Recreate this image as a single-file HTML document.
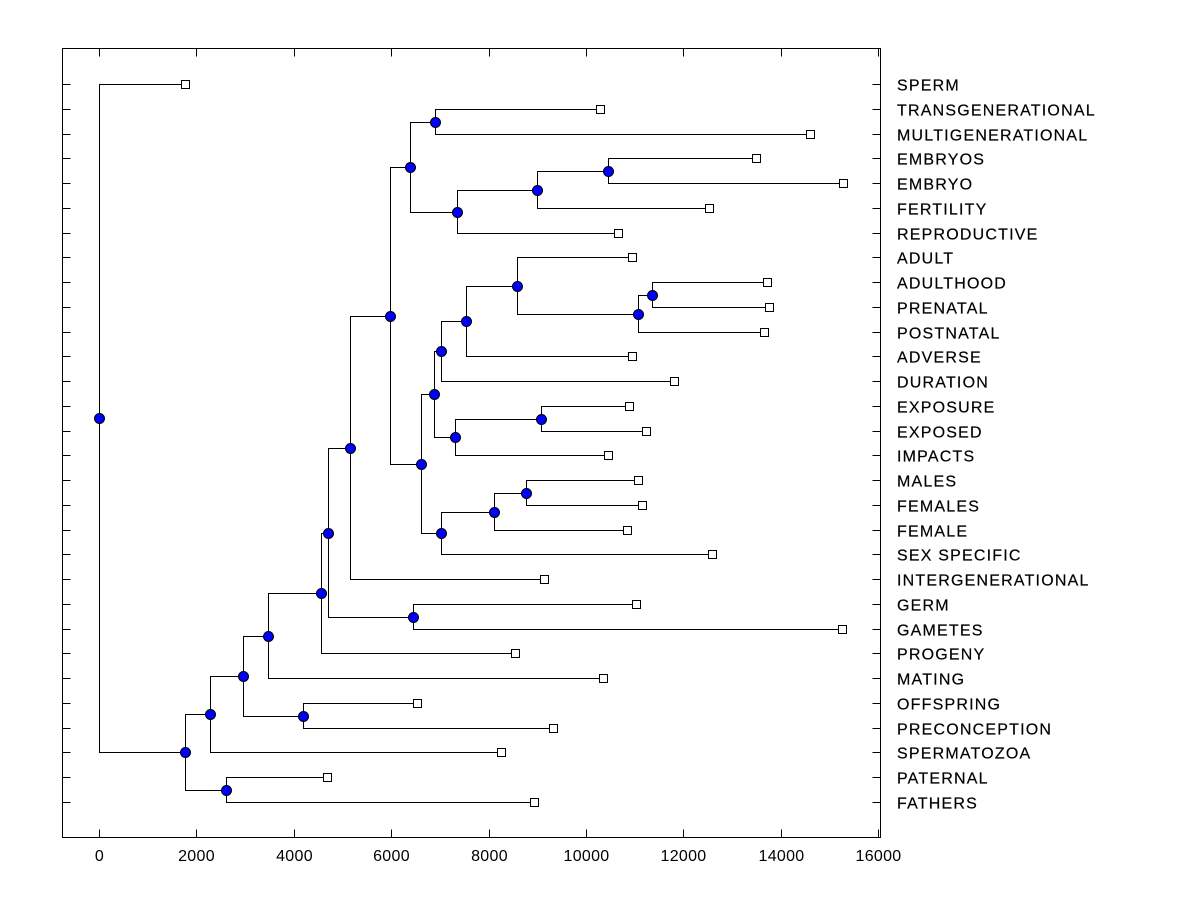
<!DOCTYPE html>
<html><head><meta charset="utf-8"><style>body{margin:0;background:#fff}svg{display:block}</style></head>
<body>
<svg id="c" width="1200" height="900" xmlns="http://www.w3.org/2000/svg"></svg>
<script>
const leafNames=["SPERM","TRANSGENERATIONAL","MULTIGENERATIONAL","EMBRYOS","EMBRYO","FERTILITY","REPRODUCTIVE","ADULT","ADULTHOOD","PRENATAL","POSTNATAL","ADVERSE","DURATION","EXPOSURE","EXPOSED","IMPACTS","MALES","FEMALES","FEMALE","SEX SPECIFIC","INTERGENERATIONAL","GERM","GAMETES","PROGENY","MATING","OFFSPRING","PRECONCEPTION","SPERMATOZOA","PATERNAL","FATHERS"];
const leafValues=[1766,10290,14603,13494,15281,12528,10660,10947,13720,13761,13658,10947,11810,10885,11234,10454,11070,11152,10844,12590,9140,11029,15260,8544,10351,6531,9324,8256,4683,8934];
// internal nodes: [name, height, child1, child2]
const nodes=[
["Y",11357,"ADULTHOOD","PRENATAL"],["X",11070,"Y","POSTNATAL"],["W",8585,"ADULT","X"],["V",7537,"W","ADVERSE"],["T",7023,"V","DURATION"],
["Z",9078,"EXPOSURE","EXPOSED"],["U",7311,"Z","IMPACTS"],["R",6879,"T","U"],
["BB",8770,"MALES","FEMALES"],["AA",8112,"BB","FEMALE"],["S",7023,"AA","SEX SPECIFIC"],["M",6612,"R","S"],
["N",6900,"TRANSGENERATIONAL","MULTIGENERATIONAL"],["Q",10454,"EMBRYOS","EMBRYO"],["P",8995,"Q","FERTILITY"],["O",7352,"P","REPRODUCTIVE"],["L",6386,"N","O"],
["K",5975,"L","M"],["I",5155,"K","INTERGENERATIONAL"],["J",6450,"GERM","GAMETES"],["H",4703,"I","J"],["G",4559,"H","PROGENY"],
["E",3471,"G","MATING"],["F",4190,"OFFSPRING","PRECONCEPTION"],["D",2957,"E","F"],["B",2280,"D","SPERMATOZOA"],["C",2608,"PATERNAL","FATHERS"],
["A",1766,"B","C"],["ROOT",0,"SPERM","A"]];
const xTicks=[0,2000,4000,6000,8000,10000,12000,14000,16000];
const X0=62.5,X1=880.5,Y0=48.5,Y1=837.5;
const sx=v=>Math.round(99+v*(878-99)/16000)+0.5;
const rowY=i=>Math.round(84+i*(802-84)/29)+0.5;
const svg=document.getElementById('c');const NS='http://www.w3.org/2000/svg';
svg.setAttribute('shape-rendering','crispEdges');
function mk(t,a,p){const e=document.createElementNS(NS,t);for(const k in a)e.setAttribute(k,a[k]);(p||svg).appendChild(e);return e;}
let r=mk('rect',{x:X0,y:Y0,width:X1-X0,height:Y1-Y0,fill:'none',stroke:'#000','stroke-width':1});


xTicks.forEach(v=>{const x=sx(v);
 mk('line',{x1:x,y1:Y0,x2:x,y2:Y0+8,stroke:'#000'});mk('line',{x1:x,y1:Y1,x2:x,y2:Y1-8,stroke:'#000'});
 const t=mk('text',{x:x,y:861,'text-anchor':'middle','font-family':'Liberation Sans, Arial, sans-serif','font-size':16,'letter-spacing':0.3});t.textContent=v;
 
 });
const pos={};
leafNames.forEach((n,i)=>{const y=rowY(i);pos[n]={x:sx(leafValues[i]),y:y,leaf:true};
 mk('line',{x1:X0,y1:y,x2:X0+8,y2:y,stroke:'#000'});mk('line',{x1:X1,y1:y,x2:X1-8,y2:y,stroke:'#000'});
 const t=mk('text',{x:897,y:y+6,'font-family':'Liberation Sans, Arial, sans-serif','font-size':16,'letter-spacing':1.2,'stroke':'#000','stroke-width':0.2});t.textContent=n;
 
 });
const g=mk('g',{});
nodes.forEach(([n,h,a,b])=>{const x=sx(h),pa=pos[a],pb=pos[b];pos[n]={x:x,y:Math.round((pa.y+pb.y)/2-0.5)+0.5};
 mk('path',{d:`M${pa.x} ${pa.y}H${x}V${pb.y}H${pb.x}`,fill:'none',stroke:'#000','stroke-width':1},g);});
leafNames.forEach(n=>{const p=pos[n];const s=mk('rect',{x:p.x-4,y:p.y-4,width:8,height:8,fill:'#fff',stroke:'#000'});
 
 });
nodes.forEach(([n])=>{const p=pos[n];const c=mk('circle',{cx:p.x,cy:p.y,r:5,fill:'#0000ff',stroke:'#000','stroke-width':1,'shape-rendering':'auto'});
 
 });
</script>
</body></html>
